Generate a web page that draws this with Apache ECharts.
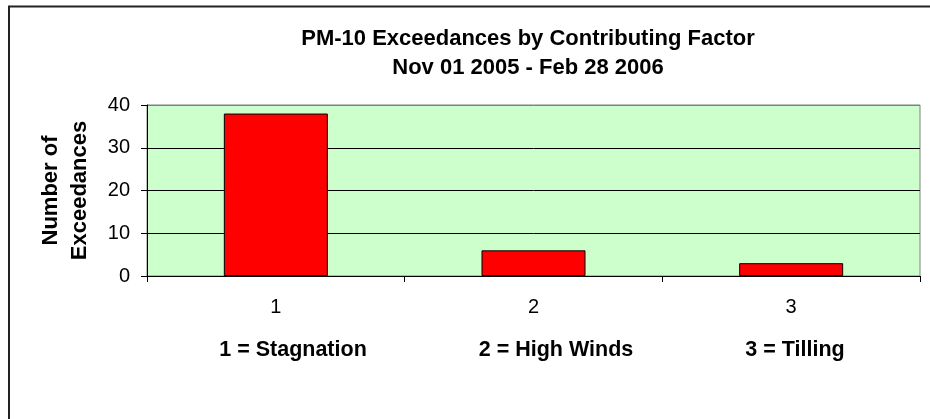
<!DOCTYPE html>
<html>
<head>
<meta charset="utf-8">
<script src="https://cdn.jsdelivr.net/npm/echarts@6/dist/echarts.min.js"></script>
<style>
html,body{margin:0;padding:0;background:#fff;}
#chart{width:930px;height:419px;}
</style>
</head>
<body>
<div id="chart"></div>
<script>
var titleLines = ['PM-10 Exceedances by Contributing Factor', 'Nov 01 2005 - Feb 28 2006'];
var categories = ['1', '2', '3'];
var exceedances = [38, 6, 3];
var factorLabels = ['1 = Stagnation', '2 = High Winds', '3 = Tilling'];
var yTicks = [0, 10, 20, 30, 40];
var yAxisName = ['Number of', 'Exceedances'];

var FONT = '"Liberation Sans", Arial, sans-serif';
var factorX = [293, 556, 795];

var chart = echarts.init(document.getElementById('chart'), null, {renderer: 'canvas'});
var graphics = [{
  type: 'rect',
  shape: {x: 9, y: 6.5, width: 1000, height: 600},
  style: {fill: 'none', stroke: '#222', lineWidth: 2},
  silent: true, z: 0
}];
factorLabels.forEach(function (t, i) {
  graphics.push({
    type: 'text',
    x: factorX[i], y: 350,
    style: {text: t, font: 'bold 21.5px ' + FONT, fill: '#000', align: 'center', verticalAlign: 'middle'}
  });
});

chart.setOption({
  backgroundColor: '#fff',
  animation: false,
  title: {
    text: titleLines.join('\n'),
    left: 523,
    textAlign: 'center',
    top: 19,
    textStyle: {fontFamily: FONT, fontWeight: 'bold', fontSize: 22, lineHeight: 29, color: '#000'}
  },
  grid: {
    left: 147, top: 105, right: 10, bottom: 143,
    show: true, backgroundColor: '#CCFFCC', borderColor: '#808080', borderWidth: 1,
    containLabel: false
  },
  xAxis: {
    type: 'category',
    data: categories,
    axisLine: {lineStyle: {color: '#000', width: 1}},
    axisTick: {show: true, length: 6, lineStyle: {color: '#000'}},
    axisLabel: {fontFamily: FONT, fontSize: 20, color: '#000', margin: 21},
    splitLine: {show: false}
  },
  yAxis: {
    type: 'value',
    min: yTicks[0], max: yTicks[yTicks.length - 1], interval: 10,
    name: yAxisName.join('\n'),
    nameLocation: 'middle',
    nameRotate: 90,
    nameGap: 53,
    nameTextStyle: {fontFamily: FONT, fontWeight: 'bold', fontSize: 22, lineHeight: 29, color: '#000'},
    axisLine: {show: true, lineStyle: {color: '#000', width: 1}},
    axisTick: {show: true, length: 6, lineStyle: {color: '#000'}},
    axisLabel: {fontFamily: FONT, fontSize: 20, color: '#000', margin: 17},
    splitLine: {show: true, lineStyle: {color: ['#000', '#000', '#000', '#000', '#808080'], width: 1}}
  },
  series: [{
    type: 'bar',
    data: exceedances,
    barWidth: 104,
    itemStyle: {color: '#FF0000', borderColor: '#000', borderWidth: 1},
    silent: true
  }],
  graphic: graphics
});
</script>
</body>
</html>
